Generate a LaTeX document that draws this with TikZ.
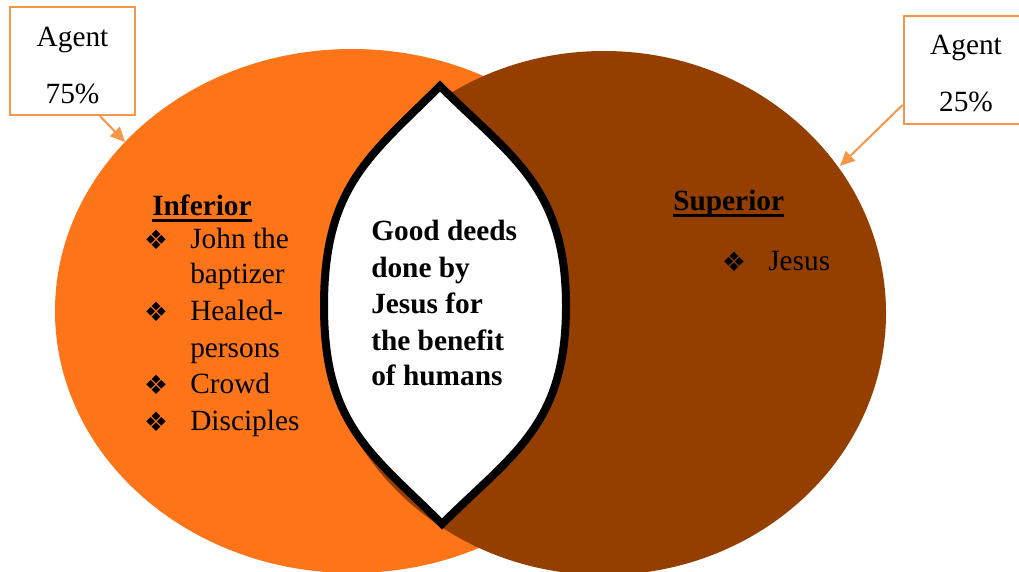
\documentclass[tikz,border=0pt]{standalone}
\usepackage{fontspec}
\setmainfont{Liberation Serif}
\newfontfamily\dejavu{DejaVu Sans}
\usetikzlibrary{arrows.meta}
\definecolor{orangeF}{HTML}{FD7518}
\definecolor{brownF}{HTML}{943F00}
\definecolor{boxC}{HTML}{F79646}
\begin{document}
\begin{tikzpicture}[x=0.75pt,y=-0.75pt,
  txt/.style={inner sep=0pt, anchor=base west, font=\fontsize{22}{26}\selectfont},
  btxt/.style={inner sep=0pt, anchor=base west, font=\fontsize{22}{26}\selectfont\bfseries},
  bul/.style={inner sep=0pt, font=\dejavu\fontsize{20}{22}\selectfont},
  agentbox/.style={draw=boxC, line width=1.5pt, fill=white, minimum width=93.75pt, minimum height=81pt},
  agenttext/.style={align=center, inner sep=0pt, font=\fontsize{22}{42.75}\selectfont},
  arr/.style={draw=boxC, line width=1.5pt, -{Triangle[length=11pt,width=10pt]}},
  uline/.style={line width=2pt}]
\useasboundingbox (0,0) rectangle (1019,571);
% circles
\fill[orangeF] (352,311) ellipse [x radius=222.75pt, y radius=196.5pt];
\fill[brownF] (604,313) ellipse [x radius=211.5pt, y radius=196.5pt];
% lens
\filldraw[fill=white, draw=black, line width=6pt, miter limit=10]
  (440,86) .. controls (370,156) and (324,186) .. (324,306)
  .. controls (324,426) and (372,454) .. (442,524)
  .. controls (512,454) and (566,426) .. (566,306)
  .. controls (566,186) and (510,156) .. cycle;
% left list
\node[btxt] (inf) at (152,215) {Inferior};
\draw[uline] ([yshift=-4pt]inf.base west) -- ([yshift=-4pt]inf.base east);
\node[bul] (b1) at (156,240) {❖};
\node[txt] (i1a) at (190,248) {John the};
\node[txt] (i1b) at (190,283) {baptizer};
\node[bul] (b2) at (156,312) {❖};
\node[txt] (i2a) at (190,320) {Healed-};
\node[txt] (i2b) at (190,357) {persons};
\node[bul] (b3) at (156,385) {❖};
\node[txt] (i3) at (190,393) {Crowd};
\node[bul] (b4) at (156,422) {❖};
\node[txt] (i4) at (190,430) {Disciples};
% right list
\node[btxt] (sup) at (673,210) {Superior};
\draw[uline] ([yshift=-4pt]sup.base west) -- ([yshift=-4pt]sup.base east);
\node[bul] (b5) at (734,262) {❖};
\node[txt] (j1) at (768,270) {Jesus};
% center
\node[btxt] (c1) at (371,240) {Good deeds};
\node[btxt] (c2) at (371,277) {done by};
\node[btxt] (c3) at (371,313) {Jesus for};
\node[btxt] (c4) at (371,350) {the benefit};
\node[btxt] (c5) at (371,385) {of humans};
% agent boxes
\node[agentbox] (agentL) at (72.5,61) {};
\node[agenttext] (agentLt) at (72.5,66) {Agent\\75\%};
\node[agentbox] (agentR) at (966,69.5) {};
\node[agenttext] (agentRt) at (966,74) {Agent\\25\%};
\coordinate (tipL) at (125,142);
\coordinate (tipR) at (840,166);
\draw[arr] ([xshift=20.6pt]agentL.south) -- (tipL);
\draw[arr] ([yshift=-26.6pt]agentR.west) -- (tipR);
\end{tikzpicture}
\end{document}
